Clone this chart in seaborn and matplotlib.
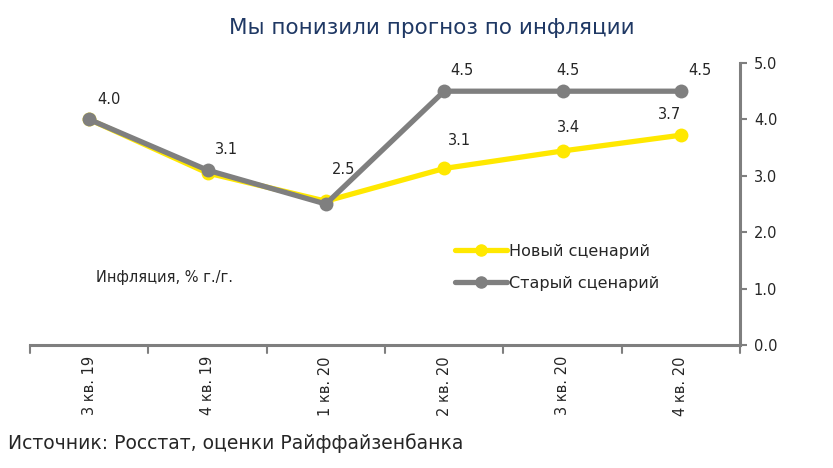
import matplotlib
matplotlib.use("Agg")
import matplotlib.pyplot as plt
import seaborn as sns
import pandas as pd
from matplotlib.lines import Line2D

sns.set_theme(style="white")
plt.rcParams['font.family'] = ['DejaVu Sans']

quarters = ["3 кв. 19", "4 кв. 19", "1 кв. 20", "2 кв. 20", "3 кв. 20", "4 кв. 20"]
new_scenario = [4.0, 3.05, 2.55, 3.13, 3.44, 3.72]
old_scenario = [4.0, 3.1, 2.5, 4.5, 4.5, 4.5]
series_names = ["Новый сценарий", "Старый сценарий"]
yticks = [0.0, 1.0, 2.0, 3.0, 4.0, 5.0]

YELLOW = "#FFE800"
GRAY = "#7F7F7F"
TEXT = "#262626"

df = pd.DataFrame({
    "x": list(range(len(quarters))) * 2,
    "v": new_scenario + old_scenario,
    "s": [series_names[0]] * len(quarters) + [series_names[1]] * len(quarters),
})

fig = plt.figure(figsize=(8.33, 4.68), dpi=100)
ax = fig.add_axes([30 / 833, 123 / 468, 710 / 833, 282 / 468])

sns.lineplot(data=df, x="x", y="v", hue="s", palette=[YELLOW, GRAY],
             marker="o", markersize=10, markeredgewidth=0, linewidth=3.8,
             legend=False, ax=ax, sort=False)

ax.set_xlim(-0.5, len(quarters) - 0.5)
ax.set_ylim(0, 5)

# data labels
old_offsets = [(14, 14), (14, 15), (13, 25), (13, 15), (4, 15), (14, 15)]
for i, v in enumerate(old_scenario):
    ax.annotate(f"{v:.1f}", (i, v), xytext=old_offsets[i], textcoords="offset points",
                ha="center", va="center", fontsize=10.5, color=TEXT)
new_offsets = {3: (11, 20), 4: (4, 17), 5: (-8, 15)}
for i, v in enumerate(new_scenario):
    if i in new_offsets:
        ax.annotate(f"{v:.1f}", (i, v), xytext=new_offsets[i], textcoords="offset points",
                    ha="center", va="center", fontsize=10.5, color=TEXT)

# spines
for s in ["top", "left"]:
    ax.spines[s].set_visible(False)
for s in ["bottom", "right"]:
    ax.spines[s].set_color(GRAY)
    ax.spines[s].set_linewidth(2.2)

ax.yaxis.tick_right()
ax.set_yticks(yticks)
ax.set_yticklabels([f"{t:.1f}" for t in yticks], fontsize=10.5, color=TEXT)
ax.tick_params(axis="y", direction="out", length=5, width=1.5, color=GRAY, pad=5)

ax.set_xticks(range(len(quarters)))
ax.set_xticklabels(quarters, rotation=90, fontsize=10.5, color=TEXT)
ax.tick_params(axis="x", length=0, pad=8)
for b in [i - 0.5 for i in range(len(quarters) + 1)]:
    ax.plot([b, b], [0, -0.14], color=GRAY, lw=1.5, clip_on=False)

ax.set_xlabel("")
ax.set_ylabel("")
ax.grid(False)

ax.text(0.06, 1.2, "Инфляция, % г./г.", fontsize=10.5, color=TEXT, ha="left", va="center")

handles = [Line2D([0], [0], color=YELLOW, lw=3.8, marker="o", markersize=8),
           Line2D([0], [0], color=GRAY, lw=3.8, marker="o", markersize=8)]
ax.legend(handles, series_names, loc="upper left", bbox_to_anchor=(0.578, 0.41),
          frameon=False, fontsize=11.5, handlelength=3.3, handletextpad=0.1,
          labelspacing=1.05, labelcolor=TEXT)

fig.text(432 / 833, 1 - 27.5 / 468, "Мы понизили прогноз по инфляции", fontsize=15.5,
         color="#1F3864", ha="center", va="center")
fig.text(8 / 833, 1 - 443 / 468, "Источник: Росстат, оценки Райффайзенбанка", fontsize=13.5,
         color=TEXT, ha="left", va="center")

fig.savefig("out.png", dpi=100, facecolor="white")
